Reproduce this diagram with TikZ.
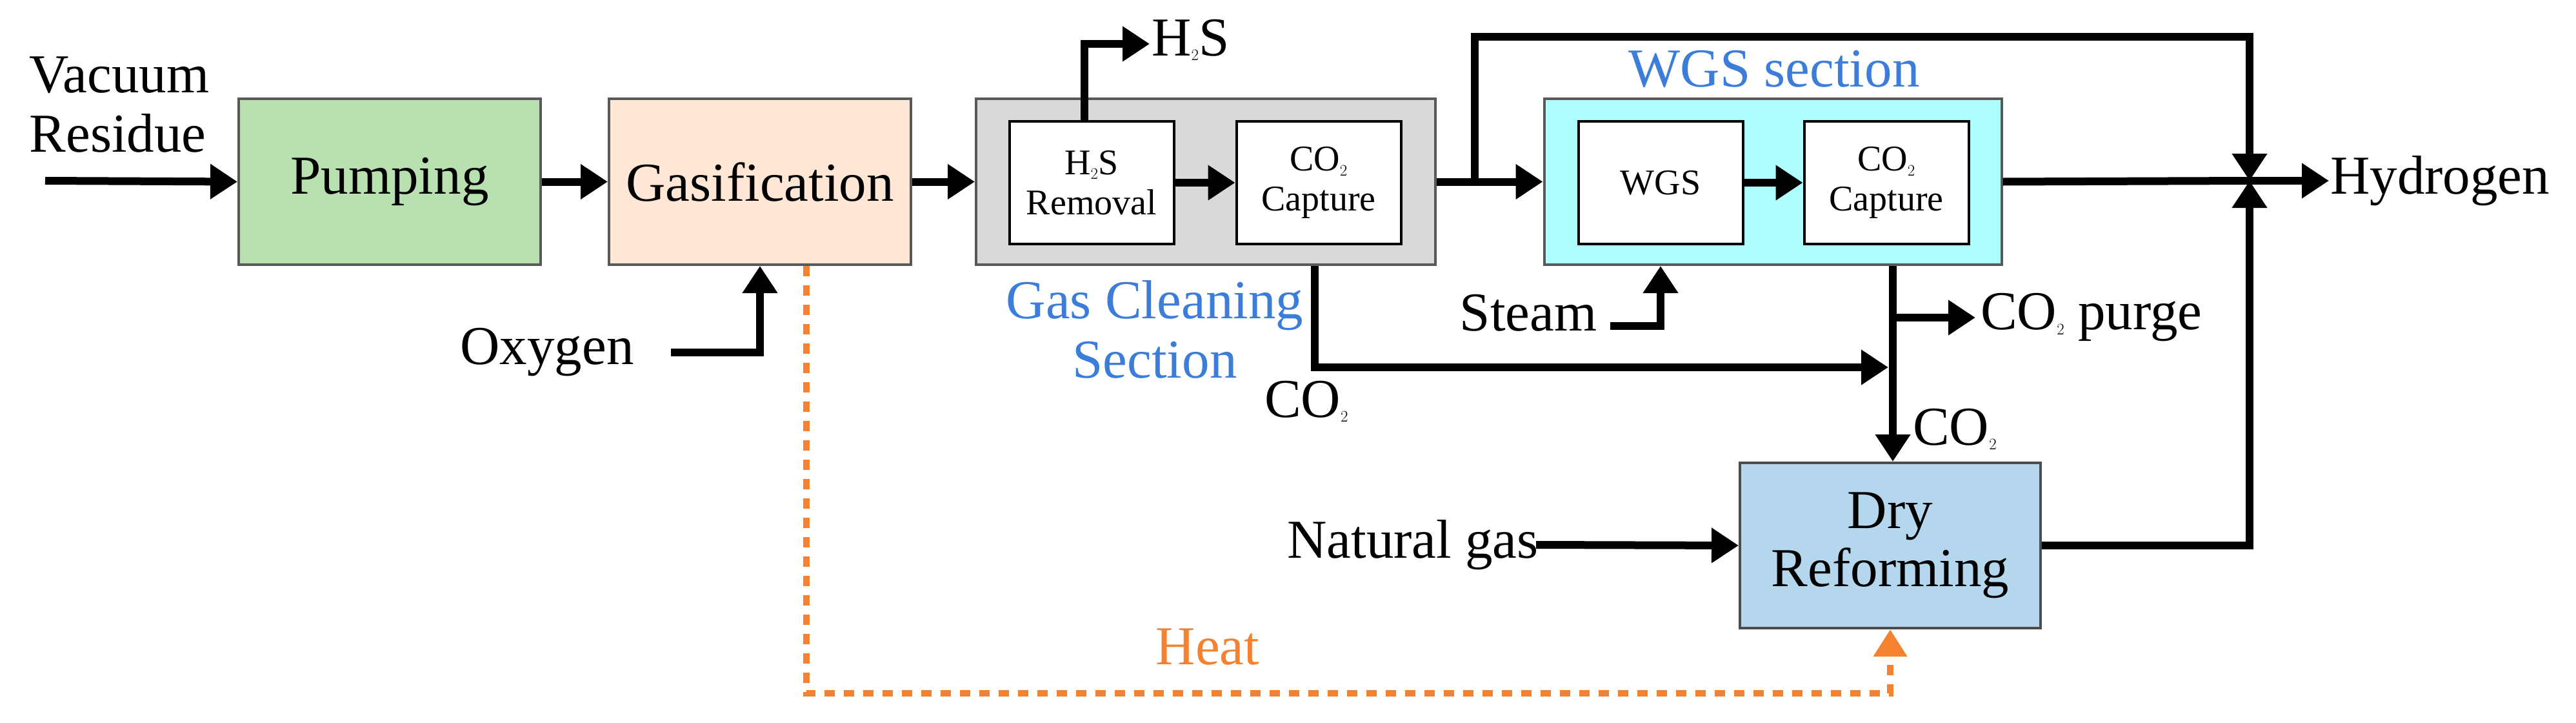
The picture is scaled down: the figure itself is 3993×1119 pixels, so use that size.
\documentclass[tikz,border=0pt]{standalone}
\usepackage{fontspec}
\setmainfont{Liberation Serif}
\usetikzlibrary{arrows.meta}
\definecolor{cgreen}{HTML}{B9E0B0}
\definecolor{cpeach}{HTML}{FFE6D5}
\definecolor{cgray}{HTML}{D9D9D9}
\definecolor{ccyan}{HTML}{AFFFFF}
\definecolor{cblue}{HTML}{B4D7EE}
\definecolor{tblue}{HTML}{3B7DD8}
\definecolor{corange}{HTML}{F58231}
\begin{document}
\begin{tikzpicture}[x=1pt,y=-1pt,
  box/.style={draw=black!65,line width=4pt,inner sep=0pt,font=\fontsize{85}{90}\selectfont,align=center},
  inner/.style={draw=black,line width=4pt,fill=white,inner sep=0pt,font=\fontsize{56}{62}\selectfont,align=center},
  lbl/.style={font=\fontsize{85}{92}\selectfont,inner sep=0pt,align=center},
  flow/.style={line width=12pt,-{Triangle[length=42pt,width=52pt]}},
  line/.style={line width=12pt},
  heat/.style={corange,line width=10pt,dash pattern=on 16pt off 14pt,-{Triangle[length=42pt,width=50pt]}}]
\useasboundingbox (0,0) rectangle (3993,1119);
% boxes
\node[box,fill=cgreen,minimum width=468pt,minimum height=257pt] (pump) at (604,281.5) {Pumping};
\node[box,fill=cpeach,minimum width=468pt,minimum height=257pt] (gas) at (1178,281.5) {Gasification};
\node[box,fill=cgray,minimum width=712pt,minimum height=257pt] (gcs) at (1869,281.5) {};
\node[inner,minimum width=255pt,minimum height=190pt] (h2sr) at (1692,283) {H$_2$S\\Removal};
\node[inner,minimum width=255pt,minimum height=190pt] (cc1) at (2044,283) {CO$_2$\\Capture};
\node[box,fill=ccyan,minimum width=709pt,minimum height=257pt] (wgss) at (2748,281.5) {};
\node[inner,minimum width=255pt,minimum height=190pt] (wgs) at (2574,283) {WGS};
\node[inner,minimum width=255pt,minimum height=190pt] (cc2) at (2924,283) {CO$_2$\\Capture};
\node[box,draw=black!70,fill=cblue,minimum width=466pt,minimum height=256pt] (dr) at (2930,845) {Dry\\Reforming};
% labels
\node[lbl,align=left] (vr) at (185,162) {Vacuum\\Residue};
\node[lbl] (oxy) at (848,546) {Oxygen};
\node[lbl,anchor=west] (h2s) at (1785,62) {H$_2$S};
\node[lbl,text=tblue] (gcl) at (1790,510) {Gas Cleaning\\Section};
\node[lbl,text=tblue] (wgsl) at (2750,107) {WGS section};
\node[lbl] (steam) at (2369,485) {Steam};
\node[lbl,anchor=west] (purge) at (3070,492) {CO$_2$ purge};
\node[lbl] (co2a) at (2025,622) {CO$_2$};
\node[lbl,anchor=west] (co2b) at (2965,665) {CO$_2$};
\node[lbl] (ng) at (2190,844) {Natural gas};
\node[lbl,anchor=west] (hyd) at (3612,280) {Hydrogen};
\node[lbl,text=corange] (heatl) at (1872,1002) {Heat};
% coordinates
\coordinate (vrs) at (70,280);
\coordinate (h2up) at (1681,68);
\coordinate (h2end) at (1782,68);
\coordinate (oxs) at (1040,546);
\coordinate (split) at (2286,280);
\coordinate (tr) at (3487,57);
\coordinate (junc) at (3487,280);
\coordinate (hend) at (3610,280);
\coordinate (sts) at (2496,505);
\coordinate (co2d) at (2038,569);
\coordinate (cj) at (2927,569);
\coordinate (pj) at (2934,492);
\coordinate (pend) at (3062,492);
\coordinate (ngs) at (2381,844);
\coordinate (hd) at (1250,1074);
% flows
\draw[flow] (vrs) -- (pump.west);
\draw[flow] (pump.east) -- (gas.west);
\draw[flow] (gas.east) -- (gcs.west);
\draw[flow] (h2sr.east) -- (cc1.west);
\draw[flow] (wgs.east) -- (cc2.west);
\draw[flow] (h2sr.north -| h2up) -- (h2up) -- (h2end);
\draw[flow] (oxs) -| (gas.south);
\draw[flow] (gcs.east) -- (wgss.west);
\draw[flow] (split) |- (tr) -- (junc);
\draw[line] (wgss.east) -- (junc);
\draw[flow] (junc) -- (hend);
\draw[flow] (dr.east) -| (junc);
\draw[flow] (sts) -| (wgs.south |- wgss.south);
\draw[flow] (gcs.south -| co2d) |- (cj);
\draw[flow] (cc2.south |- wgss.south) ++(10,0) coordinate (cd) -- (cd |- dr.north);
\draw[flow] (pj) -- (pend);
\draw[flow] (ngs) -- (dr.west);
\draw[heat] (gas.south -| hd) -- (hd) -| (dr.south);
\end{tikzpicture}
\end{document}
